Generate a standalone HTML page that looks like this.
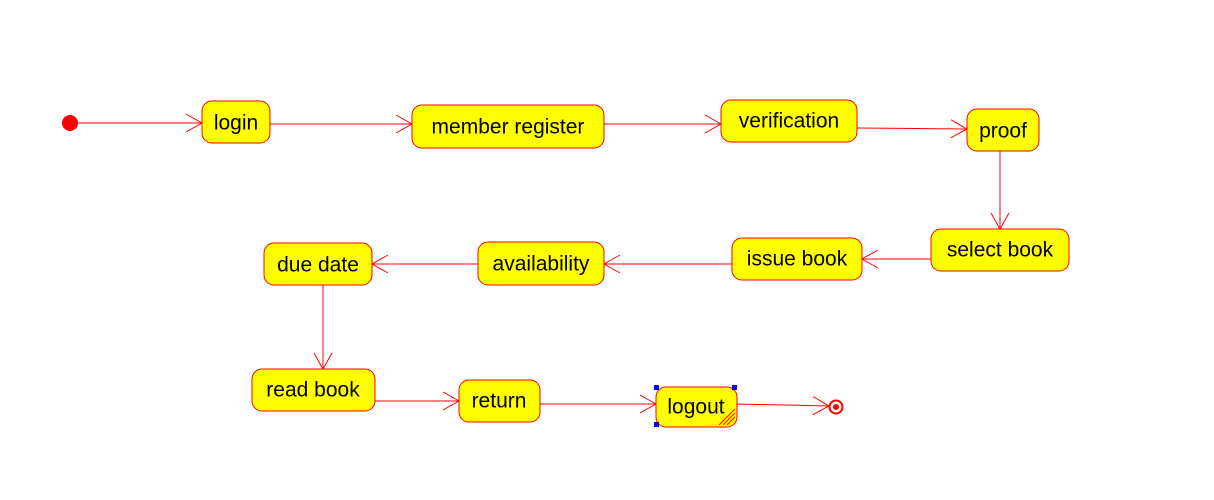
<!DOCTYPE html>
<html><head><style>body{margin:0;background:#fff}svg text{font-family:"Liberation Sans",Arial,sans-serif;font-size:21px;fill:#000;text-anchor:middle;dominant-baseline:central}</style></head>
<body>
<svg width="1214" height="495" viewBox="0 0 1214 495" xmlns="http://www.w3.org/2000/svg">
<defs><marker id="a" markerWidth="18" markerHeight="20" refX="17" refY="10" orient="auto" markerUnits="userSpaceOnUse"><path d="M1,1 L17,10 L1,19" fill="none" stroke="#f00" stroke-width="1"/></marker></defs>
<g stroke="#f00" stroke-width="1" fill="none" marker-end="url(#a)">
<line x1="78" y1="123" x2="202" y2="123"/>
<line x1="270" y1="124" x2="412" y2="124"/>
<line x1="604" y1="124" x2="721" y2="124"/>
<line x1="857" y1="128" x2="967" y2="129"/>
<line x1="1000" y1="151" x2="1000" y2="229"/>
<line x1="931" y1="259" x2="862" y2="259"/>
<line x1="732" y1="264" x2="604" y2="264"/>
<line x1="478" y1="264" x2="372" y2="264"/>
<line x1="323" y1="285" x2="323" y2="369"/>
<line x1="375" y1="401" x2="459" y2="401"/>
<line x1="540" y1="404" x2="656" y2="404"/>
<line x1="737" y1="404" x2="829" y2="406"/>
</g>
<circle cx="70" cy="123" r="8" fill="#f00"/>
<circle cx="836" cy="407" r="6.5" fill="#fff" stroke="#f00" stroke-width="2"/>
<circle cx="836" cy="407" r="3" fill="#f00"/>
<g fill="#ff0" stroke="#f00" stroke-width="1">
<rect x="202" y="101" width="68" height="42" rx="10"/>
<rect x="412" y="105" width="192" height="43" rx="10"/>
<rect x="721" y="100" width="136" height="42" rx="10"/>
<rect x="967" y="109" width="72" height="42" rx="10"/>
<rect x="931" y="229" width="138" height="42" rx="10"/>
<rect x="732" y="238" width="130" height="42" rx="10"/>
<rect x="478" y="242" width="126" height="43" rx="10"/>
<rect x="264" y="243" width="108" height="42" rx="10"/>
<rect x="252" y="369" width="123" height="42" rx="10"/>
<rect x="459" y="380" width="81" height="42" rx="10"/>
<rect x="656" y="387" width="81" height="40" rx="10"/>
</g>
<g stroke="#f00" stroke-width="1"><line x1="719" y1="425" x2="735" y2="409"/><line x1="723" y1="425" x2="735" y2="413"/><line x1="727" y1="425" x2="735" y2="417"/></g>
<g fill="#00f"><rect x="654" y="385" width="5" height="5"/><rect x="732" y="385" width="5" height="5"/><rect x="654" y="422" width="5" height="5"/></g>
<text x="236" y="123">login</text>
<text x="508" y="127">member register</text>
<text x="789" y="121">verification</text>
<text x="1003" y="131">proof</text>
<text x="1000" y="250">select book</text>
<text x="797" y="259">issue book</text>
<text x="541" y="264">availability</text>
<text x="318" y="265">due date</text>
<text x="313" y="390">read book</text>
<text x="499" y="401">return</text>
<text x="696" y="407">logout</text>
</svg>
</body></html>
